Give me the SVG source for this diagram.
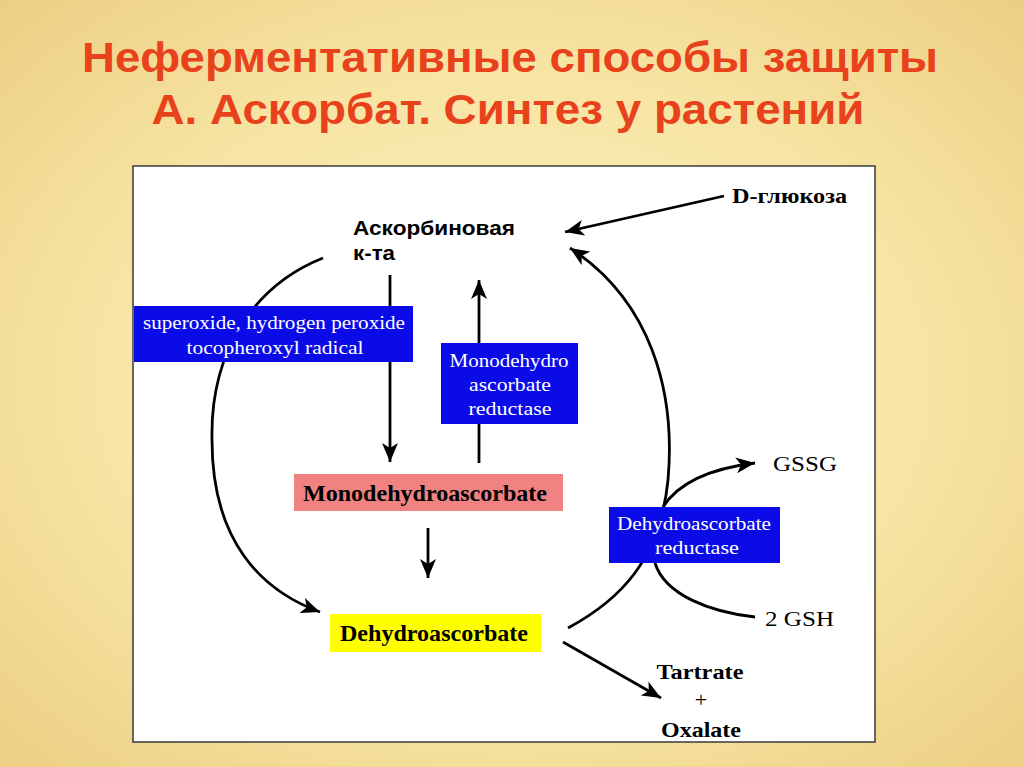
<svg xmlns="http://www.w3.org/2000/svg" width="1024" height="767" viewBox="0 0 1024 767">
<defs>
<radialGradient id="bg" cx="50%" cy="50%" r="70%">
<stop offset="0" stop-color="#fbf1c4"/>
<stop offset="0.6" stop-color="#f6e4a2"/>
<stop offset="1" stop-color="#eccf84"/>
</radialGradient>
<marker id="ah" markerUnits="userSpaceOnUse" markerWidth="20" markerHeight="16" refX="19" refY="8" orient="auto">
<path d="M0,0 L19,8 L0,16 L5,8 z" fill="#000"/>
</marker>
<style>
.title{font-family:"Liberation Sans",Arial,sans-serif;font-weight:bold;font-size:42px;fill:#e8421c}
.sans{font-family:"Liberation Sans",Arial,sans-serif;font-weight:bold;font-size:21px;fill:#000}
.serif{font-family:"Liberation Serif","Times New Roman",serif;fill:#000}
.bold{font-weight:bold}
.w{fill:#fff}
.blue{fill:#0b0be8}
.conn{fill:none;stroke:#000;stroke-width:2.8}
</style>
</defs>
<rect width="1024" height="767" fill="url(#bg)"/>
<text class="title" x="510" y="72" text-anchor="middle" textLength="856" lengthAdjust="spacingAndGlyphs">Неферментативные способы защиты</text>
<text class="title" x="508" y="124" text-anchor="middle" textLength="713" lengthAdjust="spacingAndGlyphs">А. Аскорбат. Синтез у растений</text>
<rect x="133" y="166" width="742" height="576" fill="#fff" stroke="#3a3a3a" stroke-width="1.5"/>
<g id="connectors">
<path class="conn" d="M724,196 L565,232" marker-end="url(#ah)"/>
<path class="conn" d="M323,258 C255,285 210,350 212,440 C212,540 260,590 320,612" marker-end="url(#ah)"/>
<path class="conn" d="M390,275 L390,462" marker-end="url(#ah)"/>
<path class="conn" d="M479,463 L479,280" marker-end="url(#ah)"/>
<path class="conn" d="M428,528 L428,578" marker-end="url(#ah)"/>
<path class="conn" d="M568,628 C620,600 660,560 668,480 C676,390 650,300 570,248" marker-end="url(#ah)"/>
<path class="conn" d="M663,507 C680,480 715,468 755,463" marker-end="url(#ah)"/>
<path class="conn" d="M655,563 C665,595 710,612 755,617"/>
<path class="conn" d="M563,642 L661,698" marker-end="url(#ah)"/>
</g>
<g id="ascorbic">
<text class="sans" x="353" y="235" textLength="162" lengthAdjust="spacingAndGlyphs">Аскорбиновая</text>
<text class="sans" x="353" y="260" textLength="42" lengthAdjust="spacingAndGlyphs">к-та</text>
</g>
<g id="glucose">
<text class="serif bold" x="732" y="203" font-size="22" textLength="115" lengthAdjust="spacingAndGlyphs">D-глюкоза</text>
</g>
<g id="oxidants">
<rect class="blue" x="134" y="306" width="279" height="56"/>
<text class="serif w" x="274" y="329" font-size="19" text-anchor="middle" textLength="262" lengthAdjust="spacingAndGlyphs">superoxide, hydrogen peroxide</text>
<text class="serif w" x="275" y="354" font-size="19" text-anchor="middle" textLength="177" lengthAdjust="spacingAndGlyphs">tocopheroxyl radical</text>
</g>
<g id="mdhar">
<rect class="blue" x="441" y="343" width="137" height="81"/>
<text class="serif w" x="509" y="367" font-size="19" text-anchor="middle" textLength="119" lengthAdjust="spacingAndGlyphs">Monodehydro</text>
<text class="serif w" x="510" y="391" font-size="19" text-anchor="middle" textLength="82" lengthAdjust="spacingAndGlyphs">ascorbate</text>
<text class="serif w" x="510" y="415" font-size="19" text-anchor="middle" textLength="83" lengthAdjust="spacingAndGlyphs">reductase</text>
</g>
<g id="mda">
<rect x="294" y="474" width="269" height="37" fill="#f08282"/>
<text class="serif bold" x="425" y="501" font-size="24" text-anchor="middle" textLength="244" lengthAdjust="spacingAndGlyphs">Monodehydroascorbate</text>
</g>
<g id="dha">
<rect x="330" y="614" width="211" height="38" fill="#ffff00"/>
<text class="serif bold" x="434" y="641" font-size="24" text-anchor="middle" textLength="188" lengthAdjust="spacingAndGlyphs">Dehydroascorbate</text>
</g>
<g id="dhar">
<rect class="blue" x="609" y="507" width="171" height="56"/>
<text class="serif w" x="694" y="530" font-size="19" text-anchor="middle" textLength="154" lengthAdjust="spacingAndGlyphs">Dehydroascorbate</text>
<text class="serif w" x="697" y="554" font-size="19" text-anchor="middle" textLength="84" lengthAdjust="spacingAndGlyphs">reductase</text>
</g>
<g id="gssg">
<text class="serif" x="773" y="471" font-size="22" textLength="64" lengthAdjust="spacingAndGlyphs">GSSG</text>
</g>
<g id="gsh">
<text class="serif" x="765" y="626" font-size="22" textLength="69" lengthAdjust="spacingAndGlyphs">2 GSH</text>
</g>
<g id="products">
<text class="serif bold" x="700" y="679" font-size="22" text-anchor="middle" textLength="87" lengthAdjust="spacingAndGlyphs">Tartrate</text>
<text class="serif" x="701" y="707" font-size="22" text-anchor="middle">+</text>
<text class="serif bold" x="701" y="737" font-size="22" text-anchor="middle" textLength="80" lengthAdjust="spacingAndGlyphs">Oxalate</text>
</g>
</svg>
